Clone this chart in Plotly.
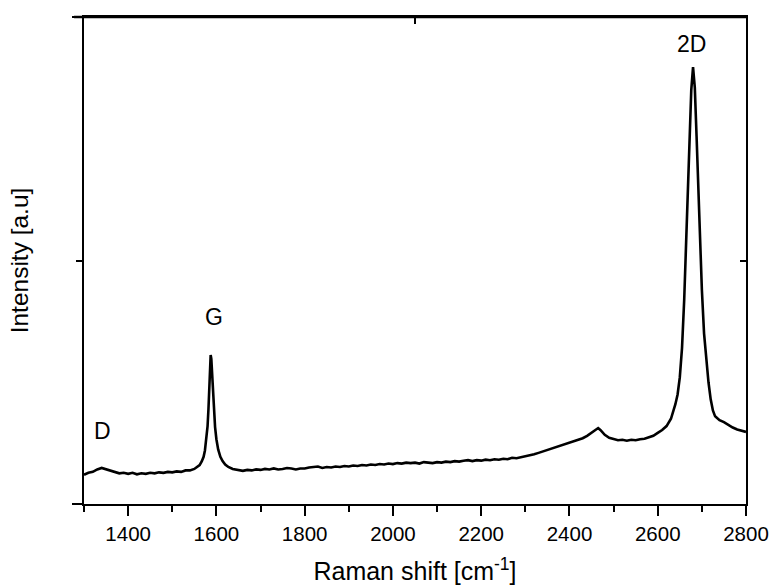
import plotly.graph_objects as go

# Raman shift (cm^-1) and intensity (a.u., 0 = bottom axis, 1 = top axis)
shift = [
    1300, 1310, 1320, 1330, 1340, 1350, 1360, 1370, 1380, 1390,
    1400, 1410, 1420, 1430, 1440, 1450, 1460, 1470, 1480, 1490,
    1500, 1510, 1520, 1530, 1540, 1550, 1557, 1562, 1567, 1571,
    1574, 1577, 1580, 1582, 1584, 1585.5, 1587, 1588.5, 1590, 1592,
    1594, 1597, 1600, 1604, 1609, 1614, 1620, 1627, 1637, 1647,
    1660, 1670, 1680, 1690, 1700, 1710, 1720, 1730, 1740, 1750,
    1760, 1770, 1780, 1790, 1800, 1810, 1820, 1830, 1840, 1850,
    1860, 1870, 1880, 1890, 1900, 1910, 1920, 1930, 1940, 1950,
    1960, 1970, 1980, 1990, 2000, 2010, 2020, 2030, 2040, 2050,
    2060, 2070, 2080, 2090, 2100, 2110, 2120, 2130, 2140, 2150,
    2160, 2170, 2180, 2190, 2200, 2210, 2220, 2230, 2240, 2250,
    2260, 2270, 2280, 2290, 2300, 2310, 2320, 2330, 2340, 2350,
    2360, 2370, 2380, 2390, 2400, 2410, 2420, 2430, 2440, 2450,
    2460, 2465, 2470, 2480, 2490, 2500, 2510, 2520, 2530, 2540,
    2550, 2560, 2570, 2580, 2590, 2600, 2610, 2620, 2630, 2640,
    2645, 2650, 2655, 2660, 2664, 2668, 2672, 2676, 2680, 2684,
    2688, 2692, 2696, 2700, 2705, 2710, 2715, 2720, 2725, 2730,
    2740, 2750, 2760, 2770, 2780, 2790, 2800,
]
intensity = [
    0.060, 0.064, 0.066, 0.071, 0.074, 0.071, 0.068, 0.066, 0.063, 0.064,
    0.062, 0.064, 0.061, 0.063, 0.062, 0.064, 0.063, 0.065, 0.064, 0.066,
    0.065, 0.067, 0.066, 0.069, 0.069, 0.072, 0.076, 0.080, 0.088, 0.097,
    0.110, 0.130, 0.160, 0.195, 0.240, 0.275, 0.306, 0.298, 0.272, 0.232,
    0.196, 0.158, 0.133, 0.112, 0.097, 0.088, 0.081, 0.076, 0.072, 0.070,
    0.068, 0.070, 0.069, 0.071, 0.070, 0.072, 0.071, 0.073, 0.071, 0.072,
    0.074, 0.073, 0.071, 0.073, 0.073, 0.075, 0.076, 0.077, 0.074, 0.076,
    0.075, 0.077, 0.076, 0.078, 0.077, 0.079, 0.078, 0.080, 0.079, 0.081,
    0.080, 0.082, 0.081, 0.083, 0.082, 0.084, 0.083, 0.085, 0.084, 0.085,
    0.083, 0.086, 0.085, 0.084, 0.086, 0.085, 0.087, 0.086, 0.088, 0.087,
    0.089, 0.090, 0.088, 0.090, 0.089, 0.091, 0.090, 0.092, 0.091, 0.093,
    0.092, 0.095, 0.094, 0.096, 0.097, 0.100, 0.102, 0.105, 0.108, 0.111,
    0.114, 0.116, 0.119, 0.122, 0.125, 0.128, 0.131, 0.135, 0.140, 0.147,
    0.153, 0.156, 0.152, 0.142, 0.136, 0.133, 0.131, 0.132, 0.130, 0.132,
    0.131, 0.133, 0.134, 0.137, 0.140, 0.146, 0.152, 0.160, 0.175, 0.205,
    0.225, 0.260, 0.320, 0.420, 0.520, 0.630, 0.750, 0.850, 0.897, 0.855,
    0.755, 0.640, 0.535, 0.440, 0.350, 0.290, 0.250, 0.215, 0.192, 0.180,
    0.172, 0.168, 0.162, 0.157, 0.153, 0.151, 0.148,
]

x_major_ticks = [1400, 1600, 1800, 2000, 2200, 2400, 2600, 2800]
x_minor_ticks = [1300, 1500, 1700, 1900, 2100, 2300, 2500, 2700]

peak_labels = ["D", "G", "2D"]
peak_label_x = [1342, 1594, 2677]
peak_label_y = [0.150, 0.383, 0.944]

FONT = "Liberation Sans, Arial, sans-serif"
LW = 2

fig = go.Figure()
fig.add_trace(go.Scatter(
    x=shift, y=intensity, mode="lines",
    line=dict(color="black", width=2.6),
    showlegend=False, hoverinfo="skip",
))
# invisible trace so the top/right frame axes are drawn
fig.add_trace(go.Scatter(
    x=[shift[0]], y=[intensity[0]], xaxis="x2", yaxis="y2",
    mode="markers", marker=dict(opacity=0), showlegend=False, hoverinfo="skip",
))

for t, px, py in zip(peak_labels, peak_label_x, peak_label_y):
    fig.add_annotation(x=px, y=py, text=t, showarrow=False,
                       font=dict(family=FONT, size=23, color="black"))

# top frame edge
fig.add_shape(type="line", xref="paper", yref="paper", x0=-0.015, x1=1, y0=1, y1=1,
              line=dict(color="black", width=2.5), layer="above")

axis_common = dict(showline=True, linecolor="black", linewidth=LW, automargin=False,
                   showgrid=False, zeroline=False, tickcolor="black", tickwidth=LW)

fig.update_layout(
    width=771, height=588,
    margin=dict(l=84, r=25, t=17, b=84),
    paper_bgcolor="white", plot_bgcolor="white",
    font=dict(family=FONT, color="black"),
    xaxis=dict(
        **axis_common,
        mirror=True,
        range=[1300, 2800],
        tickmode="array", tickvals=x_major_ticks,
        ticks="outside", ticklen=10,
        tickfont=dict(size=20.5),
        minor=dict(tickmode="array", tickvals=x_minor_ticks, ticks="outside",
                   ticklen=6, tickwidth=LW, tickcolor="black"),
        title=dict(text="Raman shift [cm<sup>-1</sup>]", font=dict(size=25), standoff=19),
    ),
    yaxis=dict(
        **axis_common,
        range=[0, 1],
        tickmode="array", tickvals=[0, 1],
        ticks="outside", ticklen=10, showticklabels=False,
        minor=dict(tickmode="array", tickvals=[0.5], ticks="outside",
                   ticklen=6, tickwidth=LW, tickcolor="black"),
        title=dict(text="Intensity [a.u]", font=dict(size=24.5), standoff=36),
    ),
    xaxis2=dict(
        **axis_common,
        overlaying="x", side="top", anchor="y2", range=[1300, 2800],
        tickmode="array", tickvals=[2050], ticks="inside", ticklen=7,
        showticklabels=False,
    ),
    yaxis2=dict(
        **axis_common,
        overlaying="y", side="right", anchor="x2", range=[0, 1],
        tickmode="array", tickvals=[0.5], ticks="inside", ticklen=6,
        showticklabels=False,
    ),
)

fig.write_html("out.html", config={"displayModeBar": False})
